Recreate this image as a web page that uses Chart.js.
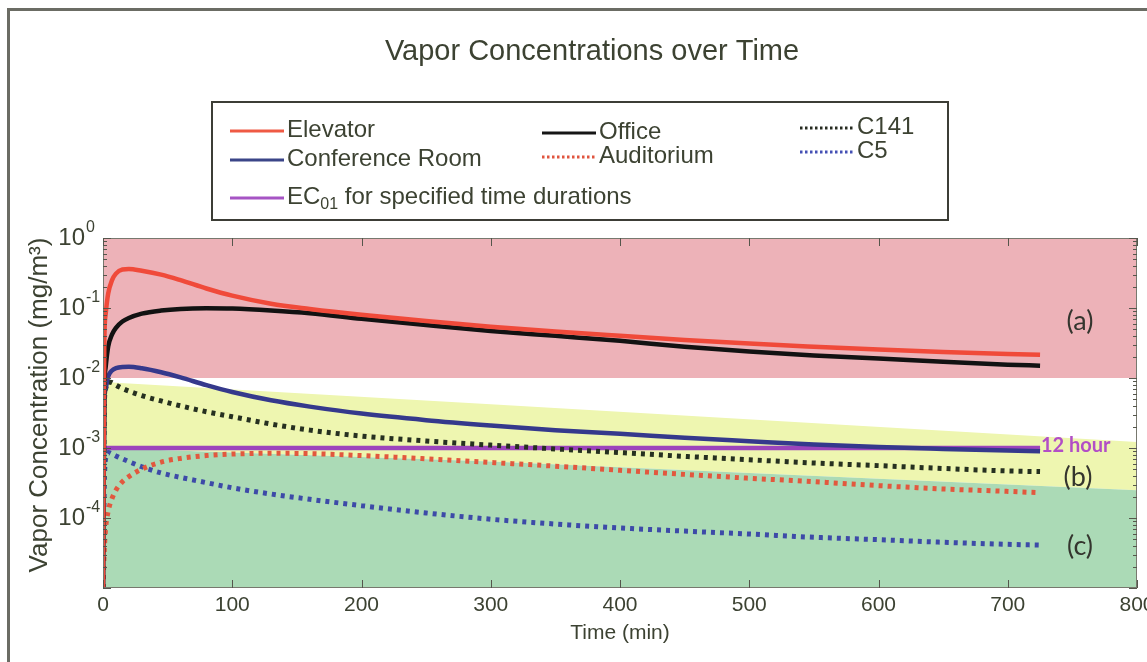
<!DOCTYPE html>
<html>
<head>
<meta charset="utf-8">
<title>Vapor Concentrations over Time</title>
<script src="https://cdn.jsdelivr.net/npm/chart.js@4.4.1/dist/chart.umd.min.js"></script>
<style>
  html, body { margin: 0; padding: 0; background: #fff; }
  #wrap { position: relative; width: 1147px; height: 662px; overflow: hidden; }
  #wrap canvas { position: absolute; left: 0; top: 0; }
  #frame {
    position: absolute; left: 7px; top: 8px; right: -10px; bottom: -10px;
    border-left: 3px solid #6b6c64; border-top: 3px solid #6b6c64;
    pointer-events: none;
  }
</style>
</head>
<body>
<div id="wrap">
  <canvas id="vaporChart" width="1147" height="662"></canvas>
  <div id="frame"></div>
</div>
<script>
// sample times (min)
const times = [0, 1, 2, 4, 7, 10, 15, 20, 30, 45, 60, 80, 100, 130, 160, 200, 250, 300, 350, 400, 450, 500, 550, 600, 650, 700, 725];

// vapor concentrations (mg/m3) at each sample time
const elevator   = [1e-5, 0.03, 0.08, 0.16, 0.25, 0.31, 0.355, 0.36, 0.34, 0.3, 0.25, 0.19, 0.15, 0.115, 0.097, 0.08, 0.065, 0.054, 0.046, 0.04, 0.035, 0.031, 0.028, 0.0255, 0.0235, 0.022, 0.0215];
const office     = [1e-5, 0.006, 0.014, 0.028, 0.042, 0.052, 0.064, 0.072, 0.083, 0.092, 0.097, 0.099, 0.098, 0.092, 0.084, 0.070, 0.057, 0.047, 0.040, 0.034, 0.028, 0.024, 0.021, 0.019, 0.017, 0.0155, 0.015];
const conference = [1e-5, 0.004, 0.007, 0.0105, 0.0128, 0.0138, 0.0144, 0.0145, 0.0138, 0.0121, 0.0102, 0.0079, 0.0063, 0.0048, 0.0039, 0.0031, 0.0025, 0.0021, 0.0018, 0.0016, 0.0014, 0.00125, 0.00112, 0.00103, 0.00097, 0.00092, 0.0009];
const auditorium = [1e-5, 3.5e-5, 7e-5, 1.25e-4, 1.9e-4, 2.5e-4, 3.3e-4, 3.9e-4, 5e-4, 6.3e-4, 7.1e-4, 7.8e-4, 8.2e-4, 8.4e-4, 8.3e-4, 7.8e-4, 7e-4, 6.2e-4, 5.5e-4, 4.8e-4, 4.2e-4, 3.7e-4, 3.3e-4, 2.9e-4, 2.6e-4, 2.4e-4, 2.3e-4];
const c141       = [1e-5, 0.004, 0.007, 0.0088, 0.0086, 0.0079, 0.0071, 0.0065, 0.0056, 0.0047, 0.0040, 0.0033, 0.0028, 0.0022, 0.0018, 0.00148, 0.00126, 0.0011, 0.00097, 0.00086, 0.00076, 0.00068, 0.00061, 0.00056, 0.00051, 0.00047, 0.00046];
const c5         = [1e-5, 3e-4, 7e-4, 8.6e-4, 8.2e-4, 7.7e-4, 7e-4, 6.4e-4, 5.4e-4, 4.4e-4, 3.8e-4, 3.2e-4, 2.7e-4, 2.2e-4, 1.85e-4, 1.5e-4, 1.18e-4, 9.6e-5, 8.2e-5, 7.2e-5, 6.5e-5, 5.9e-5, 5.3e-5, 4.9e-5, 4.5e-5, 4.2e-5, 4.1e-5];

// EC01 threshold for a 12 hour exposure
const ecTimes = [0, 725];
const ecLevel = [1e-3, 1e-3];

// shaded zones (a), (b), (c)
const zoneTimes = [0, 300, 800];
const zoneATop = [1, 1, 1];
const zoneABottom = 0.01;
const zoneBTop = [0.0088, 0.0042, 0.00122];
const zoneCTop = [0.001, 0.00064, 0.00025];

// axis ticks
const xTicks = [0, 100, 200, 300, 400, 500, 600, 700, 800];
const yTickPowers = [0, -1, -2, -3, -4];

const FONT = "'Liberation Sans', Arial, sans-serif";
const TEXT = '#3c4232';

function pts(xs, ys) {
  return xs.map((t, i) => ({ x: t, y: ys[i] }));
}

function zone(data, color, fill, order) {
  return {
    data, fill, order,
    backgroundColor: color,
    borderWidth: 0,
    pointRadius: 0,
    tension: 0
  };
}

function series(label, ys, color, dotted, order) {
  return {
    label,
    data: pts(times, ys),
    borderColor: color,
    borderWidth: dotted ? 5 : 4.5,
    borderDash: dotted ? [4, 5] : [],
    borderCapStyle: 'butt',
    pointRadius: 0,
    fill: false,
    cubicInterpolationMode: 'monotone',
    order
  };
}

const legendRows = [
  { text: 'Elevator', color: '#ef5a44', dotted: false, x: 230, y: 130 },
  { text: 'Conference Room', color: '#3b4588', dotted: false, x: 230, y: 159 },
  { text: 'EC', sub: '01', rest: ' for specified time durations', color: '#a654c4', dotted: false, x: 230, y: 197 },
  { text: 'Office', color: '#161616', dotted: false, x: 542, y: 132 },
  { text: 'Auditorium', color: '#e0553f', dotted: true, x: 542, y: 156 },
  { text: 'C141', color: '#262b20', dotted: true, x: 800, y: 127 },
  { text: 'C5', color: '#4450b4', dotted: true, x: 800, y: 151 }
];

const decorations = {
  id: 'decorations',
  afterDraw(chart) {
    const { ctx, chartArea: a, scales: { x, y } } = chart;
    ctx.save();

    // plot box
    ctx.strokeStyle = '#77786e';
    ctx.lineWidth = 1;
    ctx.strokeRect(a.left + 0.5, a.top + 0.5, a.right - a.left - 1, a.bottom - a.top - 1);

    // inward tick marks
    ctx.strokeStyle = '#55564c';
    ctx.beginPath();
    xTicks.forEach(v => {
      const px = Math.round(x.getPixelForValue(v)) + 0.5;
      ctx.moveTo(px, a.bottom); ctx.lineTo(px, a.bottom - 8);
      ctx.moveTo(px, a.top); ctx.lineTo(px, a.top + 8);
    });
    for (let p = -5; p <= 0; p++) {
      for (let m = 1; m <= 9; m++) {
        const v = m * Math.pow(10, p);
        if (v > 1) break;
        const py = Math.round(y.getPixelForValue(v)) + 0.5;
        const len = m === 1 ? 8 : 4;
        ctx.moveTo(a.left, py); ctx.lineTo(a.left + len, py);
        ctx.moveTo(a.right, py); ctx.lineTo(a.right - len, py);
      }
    }
    ctx.stroke();

    // y tick labels as powers of ten
    ctx.fillStyle = TEXT;
    ctx.textBaseline = 'middle';
    yTickPowers.forEach(p => {
      const py = y.getPixelForValue(Math.pow(10, p));
      ctx.font = '24px ' + FONT;
      ctx.textAlign = 'right';
      ctx.fillText('10', 85, py);
      ctx.font = '16px ' + FONT;
      ctx.textAlign = 'left';
      ctx.fillText(p === 0 ? '0' : '-' + Math.abs(p), 86, py - 10);
    });

    // y axis title
    ctx.save();
    ctx.translate(40, 405);
    ctx.rotate(-Math.PI / 2);
    ctx.textAlign = 'center';
    ctx.font = '26px ' + FONT;
    ctx.fillText('Vapor Concentration (mg/m\u00B3)', 0, 0);
    ctx.restore();

    // chart title
    ctx.font = '29px ' + FONT;
    ctx.textAlign = 'center';
    ctx.fillStyle = TEXT;
    ctx.fillText('Vapor Concentrations over Time', 592, 52);

    // zone labels
    ctx.font = '27px Lato, sans-serif';
    ctx.fillStyle = '#34352e';
    ctx.fillText('(a)', 1080, 321);
    ctx.fillText('(b)', 1078, 477);
    ctx.fillText('(c)', 1080, 546);

    // threshold label
    ctx.font = 'bold 20px Lato, sans-serif';
    ctx.fillStyle = '#b24ec6';
    ctx.textAlign = 'left';
    ctx.fillText('12 hour', 1041, y.getPixelForValue(ecLevel[1]) - 2);

    // legend box
    ctx.fillStyle = '#fff';
    ctx.fillRect(212, 102, 736, 118);
    ctx.strokeStyle = '#3c3d36';
    ctx.lineWidth = 2;
    ctx.strokeRect(212, 102, 736, 118);

    legendRows.forEach(r => {
      ctx.strokeStyle = r.color;
      ctx.lineWidth = 3;
      ctx.setLineDash(r.dotted ? [2.5, 2.5] : []);
      ctx.beginPath();
      ctx.moveTo(r.x, r.y + 1);
      ctx.lineTo(r.x + 54, r.y + 1);
      ctx.stroke();
      ctx.setLineDash([]);
      ctx.fillStyle = TEXT;
      ctx.textAlign = 'left';
      ctx.font = '24px ' + FONT;
      let tx = r.x + 57;
      ctx.fillText(r.text, tx, r.y);
      if (r.sub) {
        tx += ctx.measureText(r.text).width;
        ctx.font = '16px ' + FONT;
        ctx.fillText(r.sub, tx, r.y + 8);
        tx += ctx.measureText(r.sub).width;
        ctx.font = '24px ' + FONT;
        ctx.fillText(r.rest, tx, r.y);
      }
    });

    ctx.restore();
  }
};

const ctx = document.getElementById('vaporChart').getContext('2d');

new Chart(ctx, {
  type: 'line',
  data: {
    datasets: [
      zone(pts(zoneTimes, zoneATop), 'rgb(237,178,184)', { value: zoneABottom }, 30),
      zone(pts(zoneTimes, zoneBTop), 'rgb(238,246,176)', '+1', 29),
      zone(pts(zoneTimes, zoneCTop), 'rgb(171,218,182)', 'start', 28),
      {
        label: 'EC01 for specified time durations',
        data: pts(ecTimes, ecLevel),
        borderColor: '#9c44bc',
        borderWidth: 4.5,
        pointRadius: 0,
        fill: false,
        order: 20
      },
      series('Elevator', elevator, '#f04a3a', false, 1),
      series('Office', office, '#121212', false, 2),
      series('Conference Room', conference, '#35398c', false, 3),
      series('C141', c141, '#263020', true, 4),
      series('Auditorium', auditorium, '#e2583e', true, 5),
      series('C5', c5, '#3d4aa8', true, 6)
    ]
  },
  options: {
    responsive: false,
    animation: false,
    events: [],
    layout: { padding: { top: 238, right: 10, left: 0, bottom: 0 } },
    plugins: {
      legend: { display: false },
      tooltip: { enabled: false },
      title: { display: false }
    },
    scales: {
      x: {
        type: 'linear',
        min: 0,
        max: 800,
        afterBuildTicks(s) { s.ticks = xTicks.map(v => ({ value: v })); },
        ticks: { font: { family: FONT, size: 21 }, color: TEXT, padding: 5, maxRotation: 0 },
        grid: { display: false, drawTicks: false },
        border: { display: false },
        title: {
          display: true,
          text: 'Time (min)',
          font: { family: FONT, size: 21 },
          color: TEXT,
          padding: { top: 0, bottom: 16 }
        },
        afterFit(s) { s.height = 74; s.paddingLeft = 0; s.paddingRight = 0; }
      },
      y: {
        type: 'logarithmic',
        min: 1e-5,
        max: 1,
        ticks: { display: false },
        grid: { display: false, drawTicks: false },
        border: { display: false },
        afterFit(s) { s.width = 103; s.paddingTop = 0; s.paddingBottom = 0; }
      }
    }
  },
  plugins: [decorations]
});
</script>
</body>
</html>
